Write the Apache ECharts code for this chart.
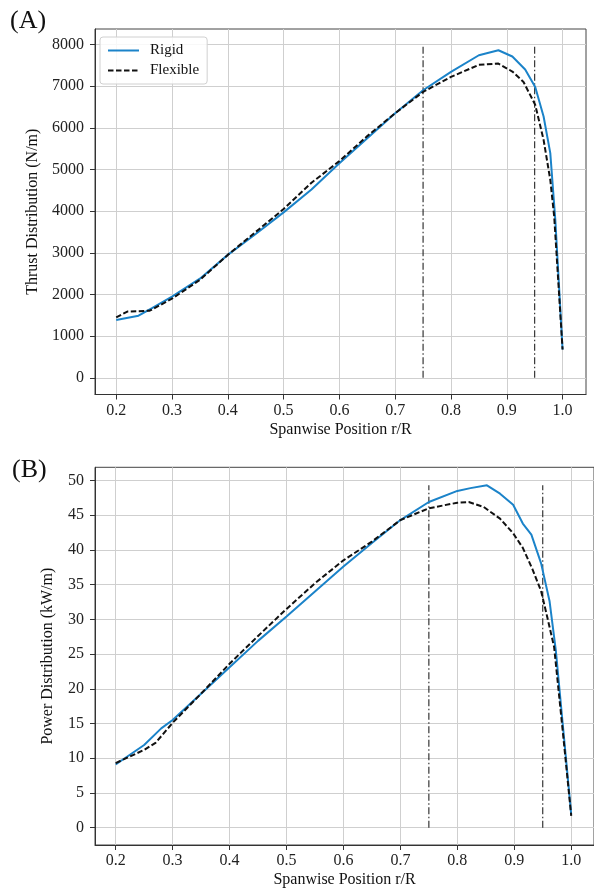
<!DOCTYPE html>
<html>
<head>
<meta charset="utf-8">
<script src="https://cdn.jsdelivr.net/npm/echarts@6/dist/echarts.min.js"></script>
<style>
html,body{margin:0;padding:0;background:#fff;}
#chart{width:594px;height:889px;}
</style>
</head>
<body>
<div id="chart"></div>
<script>
// ---- Data (A) Thrust distribution ----
const thrustRigidR = [0.20, 0.24, 0.265, 0.30, 0.35, 0.40, 0.45, 0.50, 0.55, 0.60, 0.65, 0.70, 0.75, 0.80, 0.85, 0.885, 0.91, 0.933, 0.951, 0.966, 0.978, 0.987, 1.00];
const thrustRigid  = [1390, 1490, 1680, 1950, 2380, 2950, 3450, 3970, 4520, 5150, 5750, 6350, 6900, 7340, 7740, 7860, 7710, 7400, 6980, 6270, 5390, 3790, 680];
const thrustFlexR  = [0.20, 0.22, 0.26, 0.30, 0.35, 0.40, 0.45, 0.50, 0.55, 0.60, 0.65, 0.70, 0.75, 0.80, 0.85, 0.885, 0.91, 0.93, 0.951, 0.966, 0.978, 0.985, 1.00];
const thrustFlex   = [1450, 1590, 1610, 1900, 2350, 2950, 3500, 4050, 4680, 5200, 5800, 6350, 6860, 7220, 7510, 7540, 7350, 7100, 6550, 5710, 4750, 3870, 680];
const thrustMarkR  = [0.75, 0.95];
const thrustMarkTop = 7960;

// ---- Data (B) Power distribution ----
const powerRigidR = [0.20, 0.25, 0.28, 0.30, 0.35, 0.40, 0.45, 0.50, 0.55, 0.60, 0.65, 0.70, 0.75, 0.80, 0.823, 0.852, 0.875, 0.898, 0.915, 0.93, 0.947, 0.962, 0.973, 0.985, 1.00];
const powerRigid  = [9.1, 11.9, 14.3, 15.5, 19.3, 23.1, 26.9, 30.4, 34.0, 37.6, 41.0, 44.3, 46.9, 48.5, 48.9, 49.3, 48.1, 46.5, 43.8, 42.2, 38.1, 32.6, 25.5, 15.0, 1.9];
const powerFlexR  = [0.20, 0.25, 0.27, 0.30, 0.35, 0.40, 0.45, 0.50, 0.55, 0.60, 0.65, 0.70, 0.75, 0.80, 0.82, 0.846, 0.875, 0.898, 0.915, 0.932, 0.947, 0.958, 0.970, 0.985, 1.00];
const powerFlex   = [9.3, 11.2, 12.2, 15.1, 19.3, 23.6, 27.6, 31.5, 35.2, 38.5, 41.2, 44.3, 46.0, 46.8, 46.9, 46.2, 44.5, 42.4, 40.3, 37.2, 34.1, 30.3, 26.0, 14.0, 1.7];
const powerMarkR  = [0.75, 0.95];
const powerMarkTop = 49.3;

// ---- Ticks ----
const xTicks = [0.2, 0.3, 0.4, 0.5, 0.6, 0.7, 0.8, 0.9, 1.0];
const thrustTicks = [0, 1000, 2000, 3000, 4000, 5000, 6000, 7000, 8000];
const powerTicks = [0, 5, 10, 15, 20, 25, 30, 35, 40, 45, 50];

const FONT = '"Liberation Serif","DejaVu Serif",serif';
const BLUE = '#1b83c9';
const zip = (a, b) => a.map((v, i) => [v, b[i]]);

function xAxisCfg(gridIndex, min, max) {
  return {
    type: 'value', gridIndex, min, max,
    name: 'Spanwise Position r/R', nameLocation: 'middle', nameGap: 27,
    nameTextStyle: {fontFamily: FONT, fontSize: 16, color: '#111'},
    axisLine: {show: true, onZero: false, lineStyle: {color: '#333', width: 1}},
    axisTick: {show: true, length: 5, inside: false, lineStyle: {color: '#333'}, customValues: xTicks},
    axisLabel: {show: true, margin: 8, fontFamily: FONT, fontSize: 16, color: '#222',
      customValues: xTicks, formatter: v => Number(v).toFixed(1)},
    splitLine: {show: true, lineStyle: {color: '#cfcfcf', width: 1}}
  };
}
function yAxisCfg(gridIndex, min, max, ticks, name, gap) {
  return {
    type: 'value', gridIndex, min, max,
    name, nameLocation: 'middle', nameGap: gap,
    nameTextStyle: {fontFamily: FONT, fontSize: 16, color: '#111'},
    axisLine: {show: true, onZero: false, lineStyle: {color: '#333', width: 1}},
    axisTick: {show: true, length: 5, inside: false, lineStyle: {color: '#333'}, customValues: ticks},
    axisLabel: {show: true, margin: 11, fontFamily: FONT, fontSize: 16, color: '#222',
      customValues: ticks, formatter: v => String(Math.round(v))},
    splitLine: {show: true, lineStyle: {color: '#cfcfcf', width: 1}}
  };
}
function markSeries(xIdx, rs, top) {
  return rs.map(r => ({
    type: 'line', xAxisIndex: xIdx, yAxisIndex: xIdx, symbol: 'none', silent: true,
    data: [[r, 0], [r, top]],
    lineStyle: {color: '#222', width: 1.1, type: [7, 2.5, 1.5, 2.5]}, z: 1
  }));
}

const chart = echarts.init(document.getElementById('chart'), null, {renderer: 'canvas'});
const option = {
  animation: false,
  backgroundColor: '#fff',
  grid: [
    {left: 95, top: 29, width: 491, height: 365.5, show: true, borderColor: '#444', borderWidth: 1, backgroundColor: 'transparent'},
    {left: 95, top: 467.3, width: 507.4, height: 377.7, show: true, borderColor: '#444', borderWidth: 1, backgroundColor: 'transparent'}
  ],
  xAxis: [xAxisCfg(0, 0.162, 1.042), xAxisCfg(1, 0.1637, 1.04)],
  yAxis: [
    yAxisCfg(0, -400, 8370, thrustTicks, 'Thrust Distribution (N/m)', 52),
    yAxisCfg(1, -2.5, 51.9, powerTicks, 'Power Distribution (kW/m)', 39)
  ],
  legend: {
    show: true, orient: 'vertical', left: 100, top: 37,
    padding: [6, 8, 6, 7], itemGap: 5, itemWidth: 31, itemHeight: 14,
    backgroundColor: 'rgba(255,255,255,0.85)', borderColor: '#d0d0d0', borderWidth: 1, borderRadius: 3,
    itemStyle: {opacity: 0},
    textStyle: {fontFamily: FONT, fontSize: 15, color: '#111', padding: [0, 0, 0, 6]},
    data: ['Rigid', 'Flexible']
  },
  graphic: [
    {type: 'text', left: 10, top: 8, style: {text: '(A)', fontFamily: FONT, fontSize: 26, fill: '#111'}},
    {type: 'text', left: 12, top: 457, style: {text: '(B)', fontFamily: FONT, fontSize: 26, fill: '#111'}}
  ],
  series: [
    ...markSeries(0, thrustMarkR, thrustMarkTop),
    ...markSeries(1, powerMarkR, powerMarkTop),
    {name: 'Rigid', type: 'line', xAxisIndex: 0, yAxisIndex: 0, symbol: 'none', z: 3,
      data: zip(thrustRigidR, thrustRigid), lineStyle: {color: BLUE, width: 2}, itemStyle: {color: BLUE, opacity: 0}},
    {name: 'Flexible', type: 'line', xAxisIndex: 0, yAxisIndex: 0, symbol: 'none', z: 4,
      data: zip(thrustFlexR, thrustFlex), lineStyle: {color: '#111', width: 2, type: [5.5, 2.5]}, itemStyle: {color: '#111', opacity: 0}},
    {name: 'Rigid', type: 'line', xAxisIndex: 1, yAxisIndex: 1, symbol: 'none', z: 3,
      data: zip(powerRigidR, powerRigid), lineStyle: {color: BLUE, width: 2}, itemStyle: {color: BLUE, opacity: 0}},
    {name: 'Flexible', type: 'line', xAxisIndex: 1, yAxisIndex: 1, symbol: 'none', z: 4,
      data: zip(powerFlexR, powerFlex), lineStyle: {color: '#111', width: 2, type: [5.5, 2.5]}, itemStyle: {color: '#111', opacity: 0}}
  ]
};
chart.setOption(option);
</script>
</body>
</html>
